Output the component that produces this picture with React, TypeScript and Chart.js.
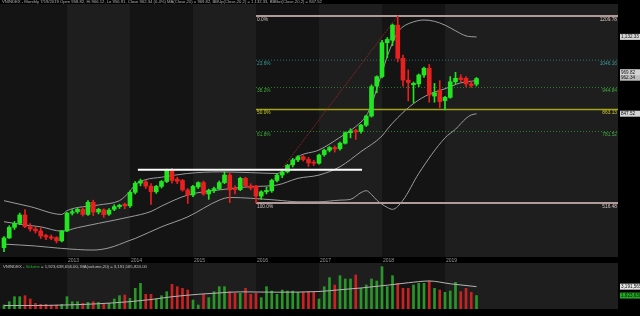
import React, { useEffect, useRef } from "react";
import { Chart, registerables } from "chart.js";

Chart.register(...registerables);

// ---------- text ----------
const titleText =
  "VNINDEX - Monthly 7/19/2019 Open 958.82, Hi 966.12, Lo 956.91, Close 962.34 (0.4%) MA(Close,20) = 969.82, BBUp(Close,20,2) = 1,132.33, BBBot(Close,20,2) = 847.52";
const volumeTitleParts = ["VNINDEX - ", "Volume", " = 1,923,638,656.00, MA(volume,20) = 3,191,565,824.00"];

// ---------- axis ticks (month index 0 = Jan 2012) ----------
const yearLabels = ["2013", "2014", "2015", "2016", "2017", "2018", "2019"];
const yearTickMonths = [12, 24, 36, 48, 60, 72, 84];

// ---------- monthly OHLC (Jan 2012 .. Jul 2019) ----------
const opens = [
  351, 387, 426, 441, 472, 428, 420, 413, 396, 391, 388, 376,
  413, 479, 484, 493, 474, 519, 483, 491, 475, 493, 503, 512,
  506, 556, 590, 595, 579, 558, 578, 596, 637, 605, 600, 565,
  546, 576, 592, 550, 562, 570, 592, 620, 569, 566, 608, 580,
  579, 542, 558, 562, 600, 620, 632, 658, 676, 688, 678, 668,
  664, 696, 712, 722, 718, 738, 777, 785, 782, 805, 839, 950,
  985, 1111, 1120, 1176, 1053, 972, 955, 958, 991, 1016, 913, 935,
  896, 908, 966, 980, 979, 958, 957,
];
const highs = [
  392, 432, 448, 479, 492, 440, 428, 425, 400, 398, 392, 415,
  482, 492, 497, 498, 525, 527, 497, 495, 496, 510, 512, 516,
  562, 596, 605, 600, 588, 582, 600, 642, 645, 612, 604, 570,
  582, 595, 598, 568, 575, 598, 632, 628, 580, 612, 612, 588,
  582, 562, 575, 605, 625, 636, 660, 682, 692, 692, 686, 675,
  698, 716, 726, 728, 742, 780, 792, 790, 808, 842, 955, 988,
  1120, 1130, 1180, 1209.78, 1065, 1010, 965, 995, 1020, 1030, 960, 970,
  912, 985, 1001, 992, 985, 968, 982,
];
const lows = [
  336, 385, 418, 436, 425, 412, 405, 385, 380, 380, 368, 372,
  410, 472, 478, 468, 470, 470, 476, 463, 470, 488, 496, 495,
  500, 550, 580, 570, 511, 552, 572, 592, 590, 588, 560, 515,
  540, 570, 545, 530, 555, 566, 588, 518, 550, 562, 575, 565,
  516.48, 530, 550, 556, 595, 610, 628, 650, 670, 672, 652, 655,
  660, 690, 706, 705, 712, 735, 758, 752, 775, 800, 835, 925,
  980, 1055, 1100, 1040, 950, 895, 887, 948, 982, 890, 890, 870,
  862, 905, 958, 965, 948, 945, 950,
];
const closes = [
  387, 426, 441, 472, 429, 420, 413, 394, 390, 386, 376, 413,
  479, 484, 493, 474, 519, 483, 493, 473, 490, 503, 508, 506,
  556, 590, 598, 579, 558, 578, 596, 637, 600, 597, 565, 546,
  578, 592, 550, 564, 570, 592, 620, 565, 566, 608, 580, 572,
  542, 558, 563, 600, 620, 632, 656, 676, 688, 678, 665, 664,
  694, 712, 722, 717, 738, 777, 784, 780, 805, 839, 948, 985,
  1111, 1123, 1176, 1053, 972, 963, 960, 991, 1016, 917, 925, 892,
  908, 966, 979, 974, 958, 952, 978,
];
// monthly volume, billions of shares
const volumes = [
  0.57, 1.05, 1.76, 1.76, 1.9, 1.43, 0.81, 0.67, 0.67, 0.57, 0.57, 0.67,
  1.76, 1.05, 1.05, 0.81, 0.95, 1.05, 0.95, 0.67, 0.81, 1.43, 1.9, 2.0,
  1.52, 2.95, 3.67, 2.1, 2.1, 1.43, 1.9, 2.48, 3.52, 3.19, 2.95, 2.71,
  1.29, 0.57, 2.1, 1.62, 2.48, 3.19, 3.19, 2.48, 2.24, 2.24, 2.95, 2.1,
  2.24, 1.62, 3.19, 2.57, 2.1, 2.71, 2.57, 2.57, 2.38, 2.38, 2.48, 2.38,
  1.43, 3.19, 4.48, 3.43, 4.76, 4.29, 4.29, 4.86, 2.95, 3.43, 4.29, 4.0,
  6.05, 3.19, 4.76, 3.67, 2.95, 2.95, 3.43, 3.67, 3.67, 4.0, 2.95, 2.71,
  2.38, 2.57, 3.81, 2.48, 2.95, 2.38, 1.92,
];

// ---------- Bollinger bands ----------
const upperMonths = [0, 5, 11, 12, 18, 22, 23, 24, 25, 27, 30, 35, 41, 47, 52, 54, 56, 60, 64, 67, 69, 70, 71, 72, 73, 74, 75, 76, 78, 80, 82, 84, 86, 88, 90];
const upperValues = [525, 503, 474, 488, 509, 525, 540, 560, 585, 603, 612, 626, 632, 629, 626, 650, 688, 713, 760, 800, 840, 880, 940, 1000, 1060, 1110, 1150, 1170, 1188, 1195, 1190, 1176, 1155, 1136, 1132];
const midMonths = [0, 4, 7, 11, 14, 18, 24, 28, 30, 35, 41, 47, 52, 56, 60, 64, 68, 72, 73, 75, 78, 81, 84, 87, 90];
const midValues = [447, 435, 428, 412, 425, 441, 465, 485, 505, 546, 565, 577, 583, 608, 620, 651, 707, 765, 790, 833, 885, 920, 940, 962, 970];
const lowerMonths = [0, 6, 11, 17, 20, 24, 25, 30, 35, 41, 43, 47, 52, 56, 60, 64, 66, 68, 69, 70, 71, 73, 74, 76, 79, 84, 86, 88, 89, 90];
const lowerValues = [364, 357, 348, 342, 350, 378, 385, 428, 465, 527, 537, 534, 527, 521, 521, 527, 530, 555, 562, 548, 527, 500, 493, 527, 626, 758, 790, 830, 843, 847];

// ---------- volume MA(20) ----------
const volMaMonths = [0, 6, 12, 18, 24, 28, 32, 37, 41, 45, 52, 60, 64, 68, 73, 77, 81, 85, 90];
const volMaValues = [0.5, 0.5, 0.58, 0.75, 1.05, 1.35, 1.75, 2.1, 2.3, 2.45, 2.4, 2.5, 2.75, 3.0, 3.4, 3.75, 4.0, 3.6, 3.19];

// ---------- Fibonacci retracement ----------
const fibLevels = [1209.78, 1046.16, 944.84, 863.13, 781.52, 516.48];
const fibLabels = ["0.0%", "23.6%", "38.2%", "50.0%", "61.8%", "100.0%"];
const fibValueLabels = ["1209.78", "1046.16", "944.84", "863.13", "781.52", "516.48"];
const fibStartMonth = 48;
const trendMonths = [48, 75];
const trendValues = [516.48, 1209.78];

// ---------- resistance line ----------
const resistanceMonths = [25.5, 68.2];
const resistanceLevel = 640;

// ---------- right-edge value boxes ----------
const bbUpLabel = "1,132.33";
const bbUpValue = 1132.33;
const maLabel = "969.82";
const closeLabel = "962.34";
const bbBotLabel = "847.52";
const bbBotValue = 847.52;
const volMaLabel = "3,191,565,824";
const volMaValue = 3.19;
const volLabel = "1,923,638,656";
const volValue = 1.92;

// ---------- styles ----------
const GREEN = "#22e622";
const RED = "#e82020";
const VGREEN = "#2a962a";
const VRED = "#c82222";
const FONT = '"Liberation Sans", Arial, sans-serif';
const fibLineColors = ["#b09a9a", "#2c7070", "#2a802a", "#a3a31c", "#2a802a", "#b09a9a"];
const fibTextColors = ["#d8c4c4", "#3c9c9c", "#3cb03c", "#cccc22", "#3cb03c", "#d8c4c4"];
const fibWidths = [2, 1, 1, 1.5, 1, 2];
const fibDashes: number[][] = [[], [1, 2], [1, 2], [], [1, 2], []];

const X_MIN = -0.76;
const X_MAX = 116.95;

function bandsPlugin() {
  return {
    id: "bands",
    beforeDraw(chart: any) {
      const { ctx } = chart;
      ctx.save();
      ctx.fillStyle = "#000";
      ctx.fillRect(0, 0, chart.width, chart.height);
      ctx.restore();
    },
    beforeDatasetsDraw(chart: any) {
      const { ctx, chartArea } = chart;
      const x = chart.scales.x;
      ctx.save();
      for (let i = 0; i <= yearTickMonths.length; i++) {
        const s = i === 0 ? chartArea.left : x.getPixelForValue(yearTickMonths[i - 1]);
        const e = i === yearTickMonths.length ? chartArea.right : x.getPixelForValue(yearTickMonths[i]);
        ctx.fillStyle = i % 2 === 0 ? "#141414" : "#1e1e1e";
        ctx.fillRect(s, chartArea.top, e - s, chartArea.bottom - chartArea.top);
      }
      ctx.restore();
    },
  };
}

function drawBox(ctx: CanvasRenderingContext2D, text: string, yc: number, left: number, bg: string, fg: string) {
  ctx.fillStyle = bg;
  ctx.fillRect(left, yc - 3, 640 - left, 6);
  ctx.fillStyle = fg;
  ctx.font = `4.6px ${FONT}`;
  ctx.textAlign = "left";
  ctx.textBaseline = "middle";
  ctx.fillText(text, left + 1, yc + 0.3);
}

function fitFont(ctx: CanvasRenderingContext2D, text: string, target: number) {
  ctx.font = `10px ${FONT}`;
  const w = ctx.measureText(text).width;
  return (10 * target) / w;
}

const mainOverlay = {
  id: "mainOverlay",
  afterDraw(chart: any) {
    const { ctx, chartArea } = chart;
    const x = chart.scales.x;
    const y = chart.scales.y;
    ctx.save();
    // year labels from the x scale's ticks
    ctx.font = `5px ${FONT}`;
    ctx.fillStyle = "#9a9a9a";
    ctx.textAlign = "left";
    ctx.textBaseline = "top";
    x.ticks.forEach((t: any) => {
      const k = yearTickMonths.indexOf(t.value);
      if (k >= 0) ctx.fillText(yearLabels[k], x.getPixelForValue(t.value) + 1, chartArea.bottom + 0.8);
    });
    // fib labels
    const xs = x.getPixelForValue(fibStartMonth);
    fibLevels.forEach((lvl, i) => {
      const py = y.getPixelForValue(lvl);
      ctx.fillStyle = fibTextColors[i];
      ctx.font = `4.8px ${FONT}`;
      ctx.textBaseline = "top";
      ctx.textAlign = "left";
      ctx.fillText(fibLabels[i], xs + 1, py + 1.2);
      ctx.textAlign = "right";
      ctx.fillText(fibValueLabels[i], chartArea.right - 1, py + 1.2);
    });
    // title
    const fs = fitFont(ctx, titleText, 321);
    ctx.font = `${fs}px ${FONT}`;
    ctx.fillStyle = "#b4b4b4";
    ctx.textAlign = "left";
    ctx.textBaseline = "top";
    ctx.fillText(titleText, 2, 0);
    // right boxes
    const left = chartArea.right + 2;
    drawBox(ctx, bbUpLabel, y.getPixelForValue(bbUpValue), left, "#d4d4d4", "#111");
    const pc = y.getPixelForValue(closes[closes.length - 1]);
    drawBox(ctx, closeLabel, pc - 0.8, left, "#bdbdbd", "#111");
    drawBox(ctx, maLabel, pc - 6.3, left, "#d4d4d4", "#111");
    drawBox(ctx, bbBotLabel, y.getPixelForValue(bbBotValue), left, "#d4d4d4", "#111");
    ctx.restore();
  },
};

const volOverlay = {
  id: "volOverlay",
  afterDraw(chart: any) {
    const { ctx, chartArea } = chart;
    const y = chart.scales.y;
    ctx.save();
    const full = volumeTitleParts.join("");
    const fs = fitFont(ctx, full, 144);
    ctx.font = `${fs}px ${FONT}`;
    ctx.textAlign = "left";
    ctx.textBaseline = "top";
    let px = 3;
    volumeTitleParts.forEach((p, i) => {
      ctx.fillStyle = i === 1 ? "#22b422" : "#c0c0c0";
      ctx.fillText(p, px, chartArea.top + 1.5);
      px += ctx.measureText(p).width;
    });
    const left = chartArea.right + 2;
    drawBox(ctx, volMaLabel, y.getPixelForValue(volMaValue), left, "#e4e4e4", "#111");
    drawBox(ctx, volLabel, y.getPixelForValue(volValue), left, "#22aa22", "#0a0a0a");
    ctx.restore();
  },
};

export default function App() {
  const mainRef = useRef<HTMLCanvasElement>(null);
  const volRef = useRef<HTMLCanvasElement>(null);

  useEffect(() => {
    document.body.style.margin = "0";
    document.body.style.background = "#000";
    const idx = closes.map((_, i) => i);
    const candleColors = idx.map((i) => (closes[i] >= opens[i] ? GREEN : RED));
    const volColors = idx.map((i) => (closes[i] >= opens[i] ? VGREEN : VRED));
    const toXY = (ms: number[], vs: number[]) => ms.map((m, i) => ({ x: m, y: vs[i] }));

    const lineBase = {
      type: "line" as const,
      pointRadius: 0,
      borderWidth: 1,
      fill: false,
      tension: 0.25,
      cubicInterpolationMode: "monotone" as const,
    };

    const fibSets = fibLevels.map((lvl, i) => ({
      ...lineBase,
      tension: 0,
      cubicInterpolationMode: "default" as const,
      data: [
        { x: fibStartMonth, y: lvl },
        { x: X_MAX, y: lvl },
      ],
      borderColor: fibLineColors[i],
      borderWidth: fibWidths[i],
      borderDash: fibDashes[i],
      order: 6,
    }));

    const xScale = {
      type: "linear" as const,
      min: X_MIN,
      max: X_MAX,
      offset: false,
      grid: { display: false, offset: false },
      border: { display: false },
    };

    const main = new Chart(mainRef.current!, {
      type: "bar",
      data: {
        datasets: [
          {
            type: "bar",
            data: idx.map((i) => ({ x: i, y: [lows[i], highs[i]] })) as any,
            backgroundColor: candleColors,
            barThickness: 1,
            grouped: false,
            order: 2,
          },
          {
            type: "bar",
            data: idx.map((i) => ({ x: i, y: [opens[i], closes[i]] })) as any,
            backgroundColor: candleColors,
            barThickness: 4,
            grouped: false,
            minBarLength: 1,
            order: 1,
          },
          { ...lineBase, data: toXY(upperMonths, upperValues), borderColor: "#9c9c9c", order: 3 },
          { ...lineBase, data: toXY(midMonths, midValues), borderColor: "#9c9c9c", order: 3 },
          { ...lineBase, data: toXY(lowerMonths, lowerValues), borderColor: "#9c9c9c", order: 3 },
          ...fibSets,
          {
            ...lineBase,
            tension: 0,
            cubicInterpolationMode: "default",
            data: toXY(trendMonths, trendValues),
            borderColor: "rgba(160,40,40,0.75)",
            borderDash: [2, 1],
            order: 5,
          },
          {
            ...lineBase,
            tension: 0,
            cubicInterpolationMode: "default",
            data: resistanceMonths.map((m) => ({ x: m, y: resistanceLevel })),
            borderColor: "#ffffff",
            borderWidth: 2,
            order: 0,
          },
        ] as any,
      },
      options: {
        responsive: false,
        animation: false,
        events: [],
        layout: { padding: { left: 0, right: 22, top: 4, bottom: 0 } },
        plugins: { legend: { display: false }, tooltip: { enabled: false } },
        scales: {
          x: {
            ...xScale,
            display: true,
            afterBuildTicks: (s: any) => {
              s.ticks = yearTickMonths.map((v) => ({ value: v }));
            },
            afterFit: (s: any) => {
              s.height = 6;
            },
            ticks: { display: false, autoSkip: false, maxRotation: 0, minRotation: 0 },
          } as any,
          y: { type: "linear", min: 316.2, max: 1254.3, display: false, beginAtZero: false },
        },
      },
      plugins: [bandsPlugin(), mainOverlay],
    });

    const vol = new Chart(volRef.current!, {
      type: "bar",
      data: {
        datasets: [
          {
            type: "bar",
            data: idx.map((i) => ({ x: i, y: volumes[i] })) as any,
            backgroundColor: volColors,
            barThickness: 2,
            grouped: false,
            order: 1,
          },
          { ...lineBase, data: toXY(volMaMonths, volMaValues), borderColor: "#b4b4b4", order: 0 },
        ] as any,
      },
      options: {
        responsive: false,
        animation: false,
        events: [],
        layout: { padding: { left: 0, right: 22, top: 0, bottom: 7 } },
        plugins: { legend: { display: false }, tooltip: { enabled: false } },
        scales: {
          x: { ...xScale, display: false } as any,
          y: { type: "linear", min: 0, max: 6.57, display: false },
        },
      },
      plugins: [bandsPlugin(), volOverlay],
    });

    return () => {
      main.destroy();
      vol.destroy();
    };
  }, []);

  return (
    <div style={{ position: "fixed", left: 0, top: 0, width: 640, height: 316, background: "#000" }}>
      <canvas ref={mainRef} width={640} height={263} style={{ position: "absolute", left: 0, top: 0 }} />
      <canvas ref={volRef} width={640} height={53} style={{ position: "absolute", left: 0, top: 263 }} />
    </div>
  );
}
